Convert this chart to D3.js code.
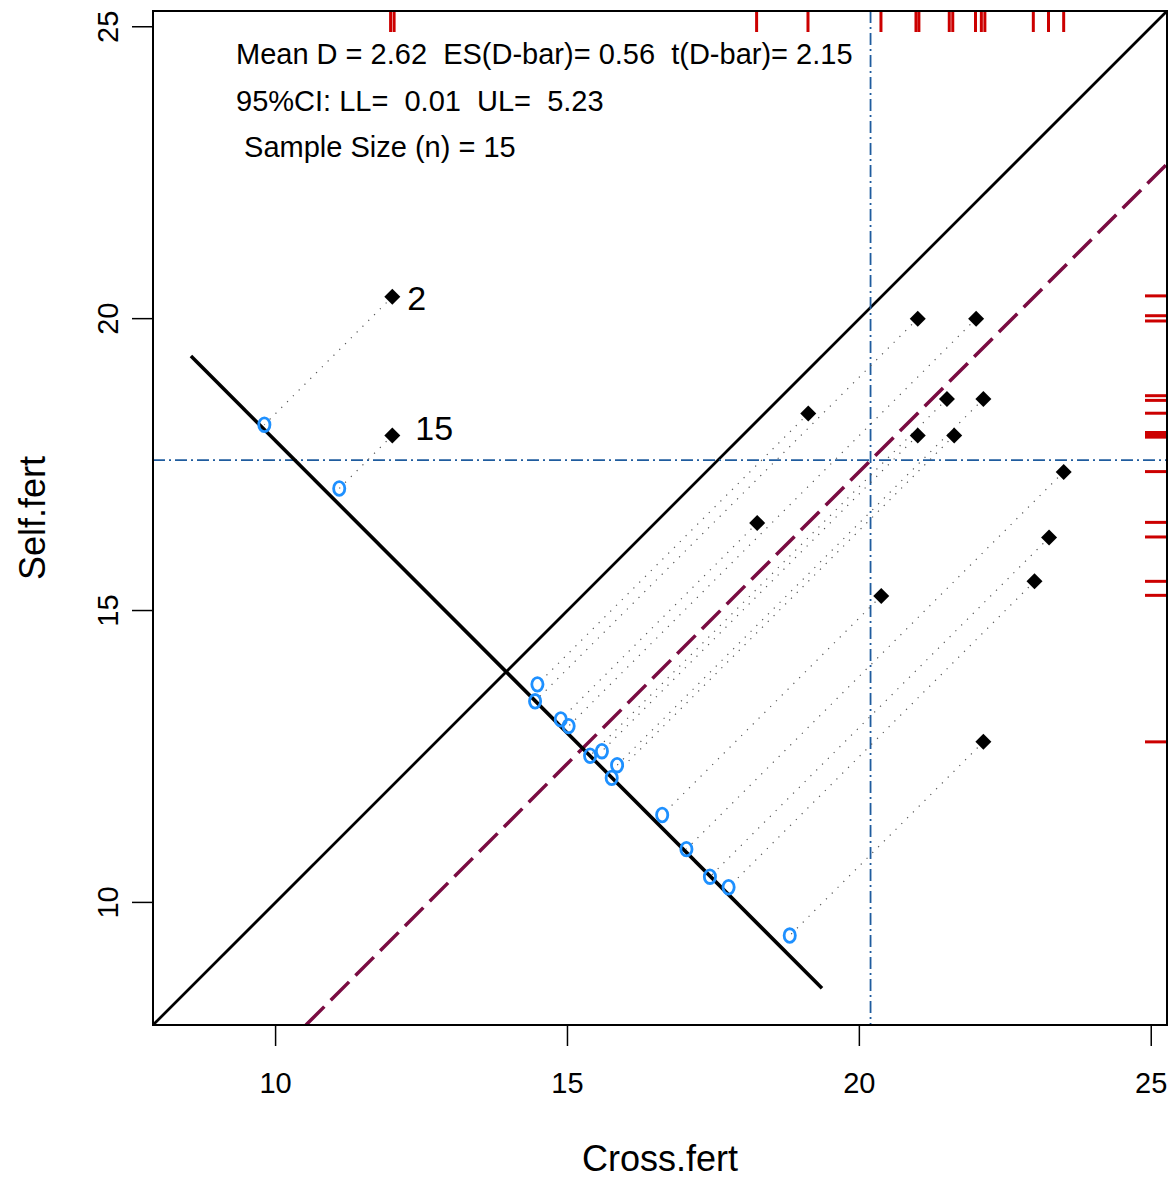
<!DOCTYPE html>
<html>
<head>
<meta charset="utf-8">
<script src="https://cdn.jsdelivr.net/npm/d3@7"></script>
<style>
body { margin: 0; background: #fff; }
text { font-family: "Liberation Sans", Arial, Helvetica, sans-serif; fill: #000; }
</style>
</head>
<body>
<svg id="chart" width="1174" height="1180"></svg>
<script>
// Darwin's Zea mays pairs
var crossFert = [23.5, 12, 21, 22, 19.125, 21.5, 22.125, 20.375, 18.25, 21.625, 23.25, 21, 22.125, 23, 12];
var selfFert = [17.375, 20.375, 20, 20, 18.375, 18.625, 18.625, 15.25, 16.5, 18, 16.25, 18, 12.75, 15.5, 18];
// x+y of each shadow point (jittered along the anti-diagonal)
var shadowSum = [27.95, 27.99, 27.89, 28.04, 28.22, 27.90, 28.20, 28.12, 28.02, 27.89, 27.88, 28.18, 28.24, 28.02, 28.18];
// rug positions as drawn (small jitter)
var rugCross = [11.97, 12.03, 18.24, 19.12, 20.37, 20.97, 21.02, 21.54, 21.60, 21.99, 22.09, 22.15, 22.98, 23.24, 23.50];
var rugSelf = [20.39, 20.05, 19.96, 18.68, 18.60, 18.38, 18.05, 18.01, 17.97, 17.38, 16.51, 16.26, 15.50, 15.26, 12.75];
var antiDiag = [[8.55, 19.36], [19.36, 8.53]];
var xTicks = [10, 15, 20, 25];
var yTicks = [10, 15, 20, 25];
var labelled = [{i: 1, text: "2"}, {i: 14, text: "15"}];
var statLines = ["Mean D = 2.62  ES(D-bar)= 0.56  t(D-bar)= 2.15",
                 "95%CI: LL=  0.01  UL=  5.23",
                 " Sample Size (n) = 15"];
var meanD = 2.62;

var svg = d3.select("#chart");
var pLeft = 153, pRight = 1167, pTop = 11, pBottom = 1025;
var lim = [7.9, 25.27];
var x = d3.scaleLinear().domain(lim).range([pLeft, pRight]);
var y = d3.scaleLinear().domain(lim).range([pBottom, pTop]);

svg.append("clipPath").attr("id", "clip")
        .append("rect").attr("x", pLeft).attr("y", pTop)
        .attr("width", pRight - pLeft).attr("height", pBottom - pTop);

var g = svg.append("g").attr("clip-path", "url(#clip)");

var pairs = crossFert.map(function (c, i) {
    var d = c - selfFert[i];
    var s = shadowSum[i];
    return {cx: c, sy: selfFert[i], hx: (d + s) / 2, hy: (s - d) / 2};
});

// identity line
g.append("line")
        .attr("x1", x(lim[0])).attr("y1", y(lim[0]))
        .attr("x2", x(lim[1])).attr("y2", y(lim[1]))
        .attr("stroke", "#000").attr("stroke-width", 2.7);

// mean lines
var mx = d3.mean(crossFert), my = d3.mean(selfFert);
g.append("line")
        .attr("x1", x(mx)).attr("x2", x(mx)).attr("y1", pTop).attr("y2", pBottom)
        .attr("stroke", "#1f5c9e").attr("stroke-width", 1.8).attr("stroke-dasharray", "12,4,2,4");
g.append("line")
        .attr("x1", pLeft).attr("x2", pRight).attr("y1", y(my)).attr("y2", y(my))
        .attr("stroke", "#1f5c9e").attr("stroke-width", 1.8).attr("stroke-dasharray", "12,4,2,4");

// mean difference line
g.append("line")
        .attr("x1", x(lim[0] + meanD)).attr("y1", y(lim[0]))
        .attr("x2", x(lim[1])).attr("y2", y(lim[1] - meanD))
        .attr("stroke", "#7a0c42").attr("stroke-width", 3.5).attr("stroke-dasharray", "26,9");

// connectors
g.selectAll(".conn").data(pairs).enter().append("line")
        .attr("class", "conn")
        .attr("x1", function (d) { return x(d.cx); })
        .attr("y1", function (d) { return y(d.sy); })
        .attr("x2", function (d) { return x(d.hx); })
        .attr("y2", function (d) { return y(d.hy); })
        .attr("stroke", "#555").attr("stroke-width", 1.2).attr("stroke-dasharray", "1.2,7");

// anti-diagonal
g.append("line")
        .attr("x1", x(antiDiag[0][0])).attr("y1", y(antiDiag[0][1]))
        .attr("x2", x(antiDiag[1][0])).attr("y2", y(antiDiag[1][1]))
        .attr("stroke", "#000").attr("stroke-width", 3.6);

// shadows
g.selectAll(".shadow").data(pairs).enter().append("ellipse")
        .attr("class", "shadow")
        .attr("cx", function (d) { return x(d.hx); })
        .attr("cy", function (d) { return y(d.hy); })
        .attr("rx", 5.6).attr("ry", 6.8)
        .attr("fill", "none").attr("stroke", "#1e90ff").attr("stroke-width", 2.8);

// paired points
g.selectAll(".pt").data(pairs).enter().append("path")
        .attr("class", "pt")
        .attr("d", "M0,-8L8,0L0,8L-8,0Z")
        .attr("transform", function (d) { return "translate(" + x(d.cx) + "," + y(d.sy) + ")"; })
        .attr("fill", "#000");

// rugs
svg.selectAll(".rugx").data(rugCross).enter().append("line")
        .attr("x1", function (d) { return x(d); }).attr("x2", function (d) { return x(d); })
        .attr("y1", pTop).attr("y2", pTop + 21)
        .attr("stroke", "#cc0000").attr("stroke-width", 3);
svg.selectAll(".rugy").data(rugSelf).enter().append("line")
        .attr("y1", function (d) { return y(d); }).attr("y2", function (d) { return y(d); })
        .attr("x1", pRight - 22).attr("x2", pRight)
        .attr("stroke", "#cc0000").attr("stroke-width", 3);

// frame
svg.append("rect").attr("x", pLeft).attr("y", pTop)
        .attr("width", pRight - pLeft).attr("height", pBottom - pTop)
        .attr("fill", "none").attr("stroke", "#000").attr("stroke-width", 2);

// axes
var xa = svg.append("g");
xa.selectAll("line").data(xTicks).enter().append("line")
        .attr("x1", function (d) { return x(d); }).attr("x2", function (d) { return x(d); })
        .attr("y1", pBottom).attr("y2", pBottom + 21)
        .attr("stroke", "#000").attr("stroke-width", 1.5);
xa.selectAll("text").data(xTicks).enter().append("text")
        .attr("x", function (d) { return x(d); }).attr("y", 1093)
        .attr("text-anchor", "middle").attr("font-size", 29)
        .text(function (d) { return d; });

var ya = svg.append("g");
ya.selectAll("line").data(yTicks).enter().append("line")
        .attr("y1", function (d) { return y(d); }).attr("y2", function (d) { return y(d); })
        .attr("x1", pLeft - 21).attr("x2", pLeft)
        .attr("stroke", "#000").attr("stroke-width", 1.5);
ya.selectAll("text").data(yTicks).enter().append("text")
        .attr("transform", function (d) { return "translate(118," + y(d) + ") rotate(-90)"; })
        .attr("text-anchor", "middle").attr("font-size", 29)
        .text(function (d) { return d; });

svg.append("text").attr("x", (pLeft + pRight) / 2).attr("y", 1171)
        .attr("text-anchor", "middle").attr("font-size", 36).text("Cross.fert");
svg.append("text").attr("transform", "translate(45," + (pTop + pBottom) / 2 + ") rotate(-90)")
        .attr("text-anchor", "middle").attr("font-size", 36).text("Self.fert");

// point labels
var labelPos = [[15, 13], [23, 5]];
labelled.forEach(function (l, k) {
    svg.append("text")
            .attr("x", x(crossFert[l.i]) + labelPos[k][0])
            .attr("y", y(selfFert[l.i]) + labelPos[k][1])
            .attr("font-size", 34)
            .text(l.text);
});

// statistics
svg.selectAll(".stat").data(statLines).enter().append("text")
        .attr("class", "stat")
        .attr("x", 236).attr("y", function (d, i) { return 64 + i * 46.5; })
        .attr("font-size", 29)
        .style("white-space", "pre")
        .text(function (d) { return d; });
</script>
</body>
</html>
